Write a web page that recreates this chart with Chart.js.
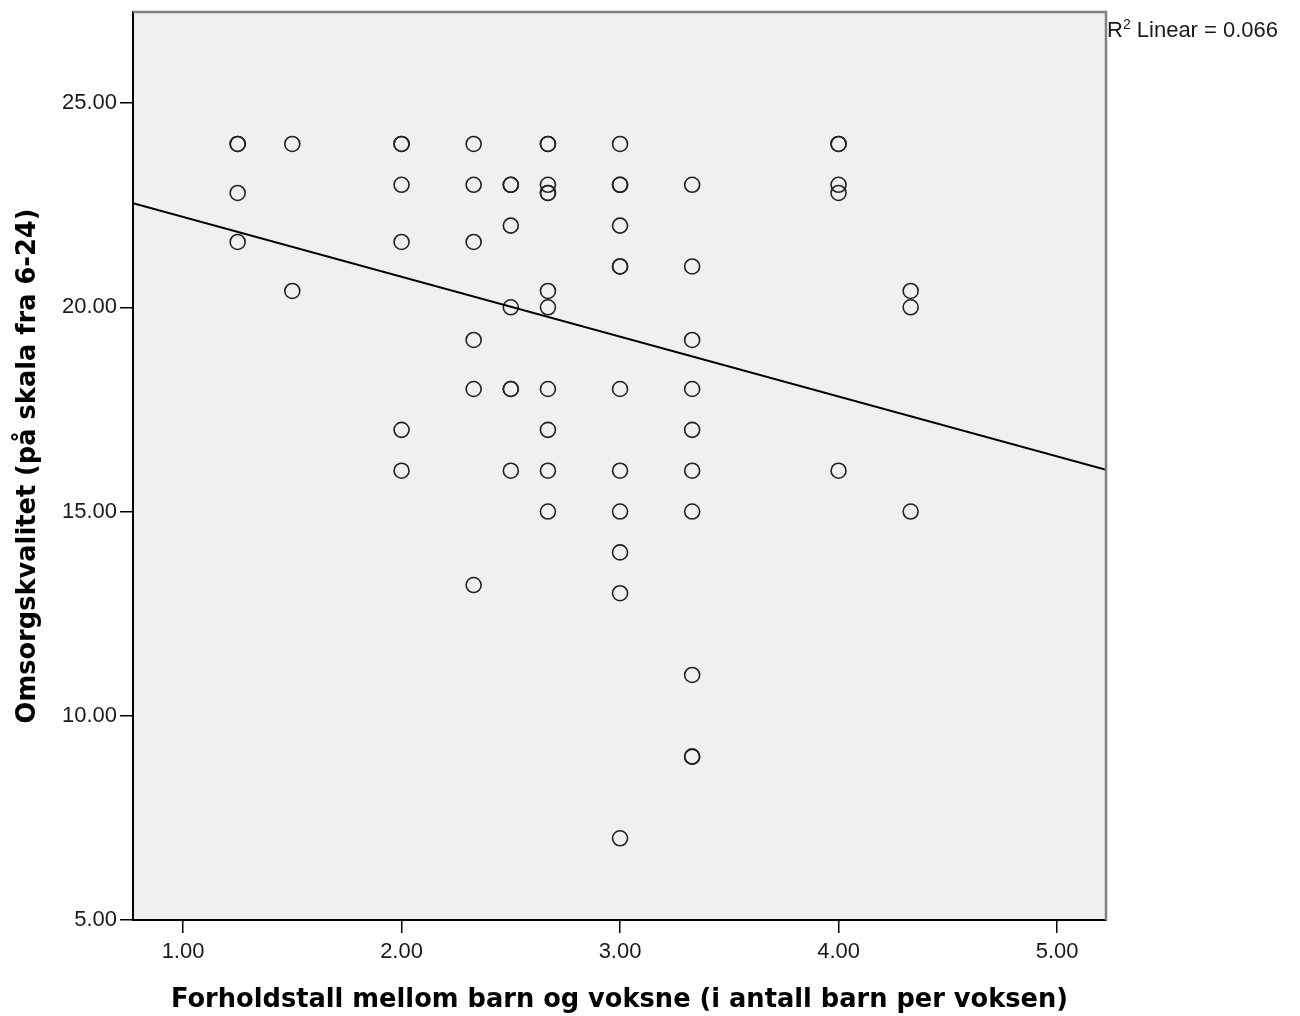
<!DOCTYPE html>
<html>
<head>
<meta charset="utf-8">
<script src="https://cdn.jsdelivr.net/npm/chart.js@4"></script>
<style>
  html, body { margin: 0; padding: 0; background: #ffffff; }
  #wrap { width: 1300px; height: 1016px; }
</style>
</head>
<body>
<div id="wrap"><canvas id="c" width="1300" height="1016"></canvas></div>
<script>
// ---- Data ----
const pointsX = [
  1.25, 1.25, 1.25, 1.25,
  1.5, 1.5,
  2, 2, 2, 2, 2, 2,
  2.33, 2.33, 2.33, 2.33, 2.33, 2.33,
  2.5, 2.5, 2.5, 2.5, 2.5, 2.5, 2.5,
  2.67, 2.67, 2.67, 2.67, 2.67, 2.67, 2.67, 2.67, 2.67, 2.67, 2.67,
  3, 3, 3, 3, 3, 3, 3, 3, 3, 3, 3, 3,
  3.33, 3.33, 3.33, 3.33, 3.33, 3.33, 3.33, 3.33, 3.33, 3.33,
  4, 4, 4, 4, 4,
  4.33, 4.33, 4.33
];
const pointsY = [
  24, 24, 22.8, 21.6,
  24, 20.4,
  24, 24, 23, 21.6, 17, 16,
  24, 23, 21.6, 19.2, 18, 13.2,
  23, 23, 22, 20, 18, 18, 16,
  24, 24, 23, 22.8, 22.8, 20.4, 20, 18, 17, 16, 15,
  24, 23, 23, 22, 21, 21, 18, 16, 15, 14, 13, 7,
  23, 21, 19.2, 18, 17, 16, 15, 11, 9, 9,
  24, 24, 23, 22.8, 16,
  20.4, 20, 15
];
// Fit line endpoints (at the axis bounds)
const fitX = [0.771, 5.224];
const fitY = [22.55, 16.02];

const xTicks = [1, 2, 3, 4, 5];
const yTicks = [5, 10, 15, 20, 25];
const xRange = [0.771, 5.224];
const yRange = [5, 27.23];

const xTitle = 'Forholdstall mellom barn og voksne (i antall barn per voksen)';
const yTitle = 'Omsorgskvalitet (på skala fra 6-24)';
const r2Label = ['R', '2', ' Linear = 0.066'];

// ---- Plugins ----
const frameBg = {
  id: 'frameBg',
  beforeDraw(chart) {
    const {ctx, chartArea: a} = chart;
    ctx.save();
    ctx.fillStyle = '#f0f0f0';
    ctx.fillRect(a.left, a.top, a.right - a.left, a.bottom - a.top);
    ctx.restore();
  },
  afterDraw(chart) {
    const {ctx, chartArea: a} = chart;
    ctx.save();
    ctx.strokeStyle = '#808080';
    ctx.lineWidth = 2.5;
    ctx.beginPath();
    ctx.moveTo(a.left, a.top);
    ctx.lineTo(a.right, a.top);
    ctx.lineTo(a.right, a.bottom);
    ctx.stroke();
    // R² annotation
    ctx.fillStyle = '#1a1a1a';
    ctx.textBaseline = 'alphabetic';
    ctx.textAlign = 'left';
    let x = a.right + 1;
    const base = 37;
    ctx.font = '22px "Liberation Sans", Arial, sans-serif';
    ctx.fillText(r2Label[0], x, base);
    x += ctx.measureText(r2Label[0]).width;
    ctx.font = '14px "Liberation Sans", Arial, sans-serif';
    ctx.fillText(r2Label[1], x, base - 8);
    x += ctx.measureText(r2Label[1]).width;
    ctx.font = '22px "Liberation Sans", Arial, sans-serif';
    ctx.fillText(r2Label[2], x, base);
    ctx.restore();
  }
};

const tickFont = {family: '"Liberation Sans", Arial, sans-serif', size: 22};
const titleFont = {family: '"DejaVu Sans", sans-serif', size: 25.7, weight: 'bold'};
const noPad = s => { s.paddingTop = 0; s.paddingBottom = 0; s.paddingLeft = 0; s.paddingRight = 0; };

new Chart(document.getElementById('c'), {
  type: 'scatter',
  data: {
    datasets: [
      {
        label: 'Fit',
        type: 'line',
        data: fitX.map((x, i) => ({x, y: fitY[i]})),
        borderColor: '#000000',
        borderWidth: 2,
        pointRadius: 0,
        fill: false,
        order: 0
      },
      {
        label: 'Points',
        data: pointsX.map((x, i) => ({x, y: pointsY[i]})),
        pointStyle: 'circle',
        pointRadius: 7.5,
        pointBorderWidth: 1.6,
        borderColor: '#222222',
        backgroundColor: 'rgba(0,0,0,0)',
        pointHoverRadius: 7.5,
        order: 1
      }
    ]
  },
  options: {
    responsive: false,
    devicePixelRatio: 1,
    animation: false,
    events: [],
    layout: {padding: {top: 12, right: 194, left: 0, bottom: 0}},
    plugins: {legend: {display: false}, tooltip: {enabled: false}},
    scales: {
      x: {
        type: 'linear',
        min: xRange[0],
        max: xRange[1],
        afterBuildTicks: s => { s.ticks = xTicks.map(v => ({value: v})); },
        afterFit: s => { s.height = 96; noPad(s); },
        ticks: {
          font: tickFont, color: '#1a1a1a', padding: 6,
          maxRotation: 0, autoSkip: false,
          callback: v => Number(v).toFixed(2)
        },
        grid: {drawOnChartArea: false, drawTicks: true, tickLength: 13, color: '#000', lineWidth: 1.5},
        border: {display: true, color: '#000', width: 2},
        title: {display: true, text: xTitle, font: titleFont, color: '#000', padding: {top: 0, bottom: 0}}
      },
      y: {
        type: 'linear',
        min: yRange[0],
        max: yRange[1],
        afterBuildTicks: s => { s.ticks = yTicks.map(v => ({value: v})); },
        afterFit: s => { s.width = 133; noPad(s); },
        ticks: {
          font: tickFont, color: '#1a1a1a', padding: 3,
          autoSkip: false,
          callback: v => Number(v).toFixed(2)
        },
        grid: {drawOnChartArea: false, drawTicks: true, tickLength: 13, color: '#000', lineWidth: 1.5},
        border: {display: true, color: '#000', width: 2},
        title: {display: true, text: yTitle, font: titleFont, color: '#000', padding: {top: 13, bottom: 0}}
      }
    }
  },
  plugins: [frameBg]
});
</script>
</body>
</html>
